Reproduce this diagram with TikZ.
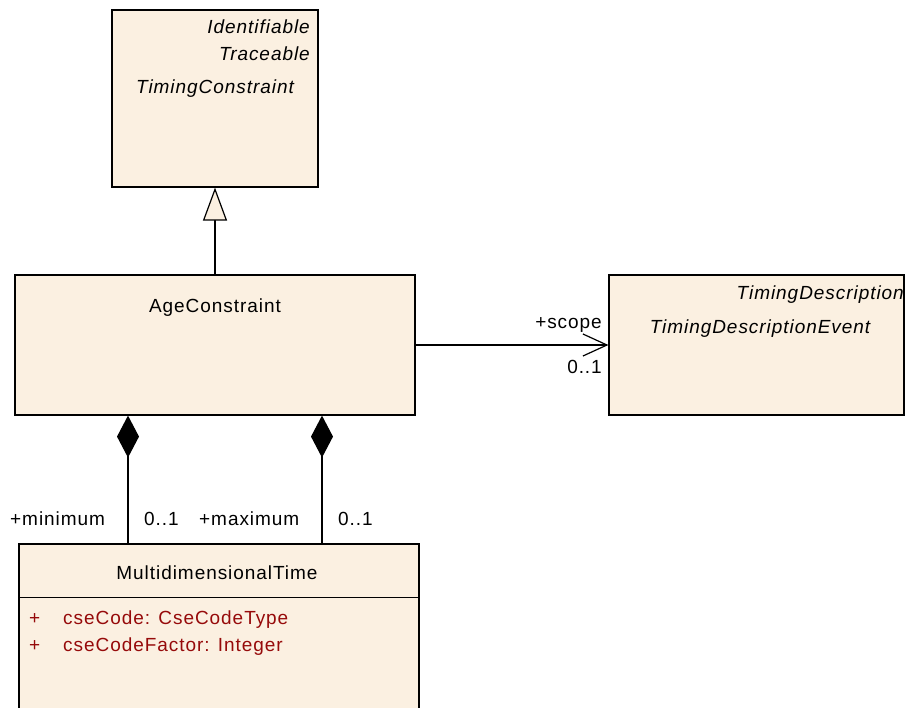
\documentclass[tikz,border=0pt]{standalone}
\usepackage{fontspec}
\setmainfont{Liberation Sans}[LetterSpace=5]
\usepackage{tikz}
\usetikzlibrary{arrows.meta, positioning}
\definecolor{classfill}{RGB}{251,240,225}
\definecolor{attrred}{RGB}{150,10,10}

\begin{document}
\begin{tikzpicture}[
  x=1pt, y=-1pt,
  cls/.style={draw, fill=classfill, line width=1.2pt, inner sep=0pt},
  txt/.style={inner sep=0pt, font=\fontsize{19}{22}\selectfont},
  ital/.style={txt, font=\fontsize{19}{22}\selectfont\itshape},
  attr/.style={txt, text=attrred},
  gen/.style={-{Triangle[length=33pt, width=24pt, fill=classfill]}, line width=1.2pt},
  assoc/.style={-{Straight Barb[length=24pt, width=22pt]}, line width=1.2pt},
  comp/.style={{Diamond[length=42pt, width=22pt]}-, line width=1.2pt}
]
\clip (0,0) rectangle (905,707);
% classes
\node[cls, minimum width=206pt, minimum height=177pt] (tc) at (215,98.5) {};
\node[cls, minimum width=400pt, minimum height=140pt] (age) at (215,345) {};
\node[cls, minimum width=295pt, minimum height=140pt] (tde) at (756.5,345) {};
\node[cls, minimum width=400pt, minimum height=216pt] (mdt) at (219,652) {};
\draw[line width=1.2pt] ([yshift=-54pt]mdt.north west) -- ([yshift=-54pt]mdt.north east);
% class texts
\node[ital, anchor=base east] (idf) at (310,33) {Identifiable};
\node[ital, anchor=base east] (trc) at (310,60.5) {Traceable};
\node[ital, anchor=base] (tcname) at (215,93) {TimingConstraint};
\node[txt, anchor=base] (agename) at (215,312) {AgeConstraint};
\node[ital, anchor=base east] (tdname) at (904,299.5) {TimingDescription};
\node[ital, anchor=base] (tdename) at (760,333.5) {TimingDescriptionEvent};
\node[txt, anchor=base] (mdtname) at (217,579.5) {MultidimensionalTime};
\node[attr, anchor=base west] (p1) at (29,624) {+};
\node[attr, anchor=base west] (a1) at (63,624) {cseCode: CseCodeType};
\node[attr, anchor=base west] (p2) at (29,651) {+};
\node[attr, anchor=base west] (a2) at (63,651) {cseCodeFactor: Integer};
% connectors
\draw[gen] (age.north) -- (tc.south);
\draw[assoc] (age.east) -- (tde.west);
\draw[comp] ([xshift=-87pt]age.south) -- ([xshift=-91pt]mdt.north);
\draw[comp] ([xshift=107pt]age.south) -- ([xshift=103pt]mdt.north);
% role labels
\node[txt, anchor=base east] (scope) at (602,328) {+scope};
\node[txt, anchor=base east] (scopem) at (602,373) {0..1};
\node[txt, anchor=base west] (minl) at (10,525) {+minimum};
\node[txt, anchor=base west] (minm) at (144,525) {0..1};
\node[txt, anchor=base west] (maxl) at (199,525) {+maximum};
\node[txt, anchor=base west] (maxm) at (338,525) {0..1};
\end{tikzpicture}
\end{document}
